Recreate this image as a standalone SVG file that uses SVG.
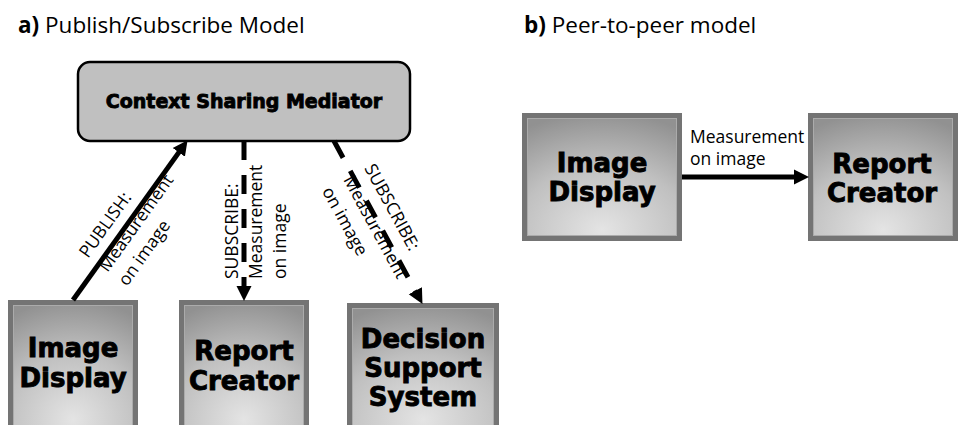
<svg xmlns="http://www.w3.org/2000/svg" width="958" height="425" viewBox="0 0 958 425">
  <style>
    .title { font-family: "Open Sans", "Liberation Sans", sans-serif; font-size: 22.5px; fill: #000; }
    .title .tag { font-weight: 700; }
    .label { font-family: "Open Sans", "Liberation Sans", sans-serif; font-size: 17.5px; fill: #000; }
    .heavy { font-family: "DejaVu Sans", "Liberation Sans", sans-serif; font-weight: 700; fill: #000; stroke: #000; stroke-width: 0.9; text-anchor: middle; }
    .box-text { font-size: 26px; }
    .frame { fill: #747474; }
    .face { fill: url(#faceGrad); stroke: #ababab; stroke-width: 1; }
    .solid { stroke: #000; stroke-width: 5; fill: none; }
    .dashed { stroke: #000; stroke-width: 5; fill: none; stroke-dasharray: 19 15; }
  </style>
  <defs>
    <radialGradient id="faceGrad" cx="50%" cy="100%" r="105%" fx="50%" fy="95%">
      <stop offset="0" stop-color="#e4e4e4"/>
      <stop offset="0.55" stop-color="#c0c0c0"/>
      <stop offset="1" stop-color="#919191"/>
    </radialGradient>
    <marker id="head" markerUnits="userSpaceOnUse" markerWidth="16" markerHeight="16" viewBox="0 0 16 16" refX="1" refY="8" orient="auto">
      <path d="M0,0.5 L15,8 L0,15.5 z" fill="#000"/>
    </marker>
  </defs>

  <rect width="958" height="425" fill="#fff"/>

  <!-- section headings -->
  <text class="title" x="18" y="33"><tspan class="tag">a)</tspan> Publish/Subscribe Model</text>
  <text class="title" x="524" y="33"><tspan class="tag">b)</tspan> Peer-to-peer model</text>

  <!-- a) publish/subscribe model -->
  <g id="mediator">
    <rect x="78" y="62" width="332" height="79" rx="12" ry="12" fill="#c0c0c0" stroke="#000" stroke-width="2.5"/>
    <text class="heavy" x="244" y="108" font-size="19" stroke-width="0.6">Context Sharing Mediator</text>
  </g>

  <g id="image-display-a">
    <rect class="frame" x="8" y="300" width="130" height="125"/>
    <rect class="face" x="13.5" y="305.5" width="119" height="120"/>
    <text class="heavy box-text" x="73" y="357">Image</text>
    <text class="heavy box-text" x="73" y="387">Display</text>
  </g>

  <g id="report-creator-a">
    <rect class="frame" x="179" y="300" width="130" height="125"/>
    <rect class="face" x="184.5" y="305.5" width="119" height="120"/>
    <text class="heavy box-text" x="244" y="360">Report</text>
    <text class="heavy box-text" x="244" y="390">Creator</text>
  </g>

  <g id="decision-support">
    <rect class="frame" x="347" y="303" width="152" height="122"/>
    <rect class="face" x="352.5" y="308.5" width="141" height="117"/>
    <text class="heavy box-text" x="423" y="348">Decision</text>
    <text class="heavy box-text" x="423" y="377">Support</text>
    <text class="heavy box-text" x="423" y="406">System</text>
  </g>

  <!-- b) peer-to-peer model -->
  <g id="image-display-b">
    <rect class="frame" x="522" y="113" width="160" height="128"/>
    <rect class="face" x="527.5" y="118.5" width="149" height="117"/>
    <text class="heavy box-text" x="602" y="172">Image</text>
    <text class="heavy box-text" x="602" y="201">Display</text>
  </g>

  <g id="report-creator-b">
    <rect class="frame" x="808" y="113" width="150" height="128"/>
    <rect class="face" x="813.5" y="118.5" width="139" height="117"/>
    <text class="heavy box-text" x="882" y="173">Report</text>
    <text class="heavy box-text" x="882" y="202">Creator</text>
  </g>

  <g id="connectors">
    <!-- publish: image display up to the mediator -->
    <line class="solid" x1="73" y1="300" x2="179.4" y2="151.6" marker-end="url(#head)"/>
    <text class="label" transform="translate(88,259) rotate(-54.4)">
      <tspan x="0" y="0">PUBLISH:</tspan>
      <tspan x="0" y="24">Measurement</tspan>
      <tspan x="0" y="48">on image</tspan>
    </text>

    <!-- subscribe: mediator down to the report creator -->
    <line class="dashed" x1="244" y1="141" x2="244" y2="287" marker-end="url(#head)"/>
    <text class="label" transform="translate(238,279) rotate(-90)">
      <tspan x="0" y="0">SUBSCRIBE:</tspan>
      <tspan x="0" y="24">Measurement</tspan>
      <tspan x="0" y="48">on image</tspan>
    </text>

    <!-- subscribe: mediator down to the decision support system -->
    <line class="dashed" x1="334" y1="141" x2="415.8" y2="291.6" marker-end="url(#head)"/>
    <text class="label" transform="translate(364,168) rotate(61.5)">
      <tspan x="0" y="0">SUBSCRIBE:</tspan>
      <tspan x="0" y="24">Measurement</tspan>
      <tspan x="0" y="48">on image</tspan>
    </text>

    <!-- peer-to-peer: image display straight to report creator -->
    <line class="solid" x1="682" y1="177" x2="795" y2="177" marker-end="url(#head)"/>
    <text class="label" x="690" y="143">Measurement</text>
    <text class="label" x="690" y="165">on image</text>
  </g>
</svg>
